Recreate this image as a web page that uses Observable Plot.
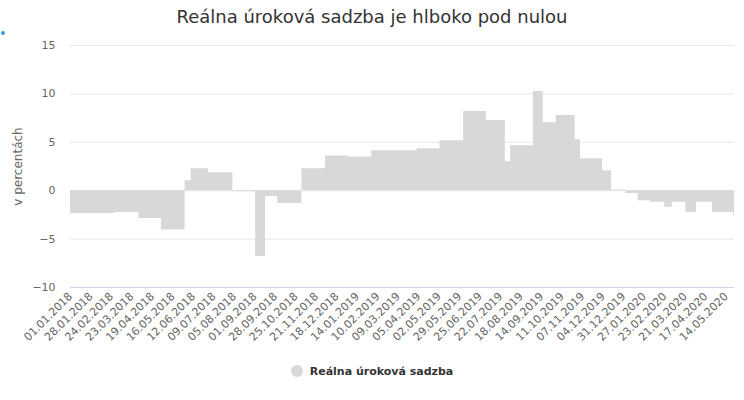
<!DOCTYPE html>
<html><head><meta charset="utf-8">
<script src="https://cdn.jsdelivr.net/npm/d3@7"></script>
<script src="https://cdn.jsdelivr.net/npm/@observablehq/plot@0.6"></script>
<style>
body{margin:0;background:#fff;font-family:"DejaVu Sans",sans-serif;width:744px;height:400px;position:relative;overflow:hidden}
#title{position:absolute;top:6px;left:0;width:744px;text-align:center;font-size:18px;color:#333}
#chart{position:absolute;top:30px;left:0}
#legend{position:absolute;top:365px;left:0;width:744px;text-align:center;font-size:11px;font-weight:bold;color:#333}
#legend .sw{display:inline-block;width:12px;height:12px;border-radius:50%;background:#d8d8d8;vertical-align:-2px;margin-right:7px}
.dot{position:absolute;left:1px;top:31px;width:4px;height:4px;border-radius:50%;background:#3a9ad9}
</style></head><body>
<div class="dot"></div>
<div id="title">Reálna úroková sadzba je hlboko pod nulou</div>
<div id="chart"></div>
<div id="legend"><span class="sw"></span>Reálna úroková sadzba</div>
<script>
const seriesName = "Reálna úroková sadzba";
const changeDates = [
  "2018-01-01","2018-03-01","2018-04-01","2018-05-01","2018-06-01","2018-06-09",
  "2018-07-02","2018-08-03","2018-09-02","2018-09-15","2018-10-01","2018-11-02",
  "2018-12-03","2019-01-02","2019-02-02","2019-04-03","2019-05-03","2019-06-03",
  "2019-07-03","2019-07-28","2019-08-04","2019-09-03","2019-09-16","2019-10-03",
  "2019-10-28","2019-11-04","2019-12-03","2019-12-15","2020-01-03","2020-01-19",
  "2020-02-04","2020-02-23","2020-03-04","2020-03-22","2020-04-05","2020-04-26",
  "2020-05-24","2020-05-25"
];
const rateValues = [
  -2.35,-2.25,-2.86,-4.07,1.03,2.27,
  1.86,-0.1,-6.8,-0.6,-1.31,2.27,
  3.59,3.48,4.14,4.34,5.17,8.17,
  7.24,3.0,4.65,10.24,7.03,7.76,
  5.27,3.31,2.07,0.07,-0.28,-1.03,
  -1.2,-1.72,-1.2,-2.24,-1.2,-2.24,
  -2.7,-2.7
];
const tickLabels = [
  "01.01.2018","28.01.2018","24.02.2018","23.03.2018","19.04.2018","16.05.2018",
  "12.06.2018","09.07.2018","05.08.2018","01.09.2018","28.09.2018","25.10.2018",
  "21.11.2018","18.12.2018","14.01.2019","10.02.2019","09.03.2019","05.04.2019",
  "02.05.2019","29.05.2019","25.06.2019","22.07.2019","18.08.2019","14.09.2019",
  "11.10.2019","07.11.2019","04.12.2019","31.12.2019","27.01.2020","23.02.2020",
  "21.03.2020","17.04.2020","14.05.2020"
];
const yTicks = [-10, -5, 0, 5, 10, 15];
const xStart = "2018-01-01", xEnd = "2020-05-25";

const parse = d3.utcParse("%Y-%m-%d");
const tickParse = d3.utcParse("%d.%m.%Y");
const fmt = d3.utcFormat("%d.%m.%Y");
const data = changeDates.map((d, i) => ({date: parse(d), value: rateValues[i]}));
const xTicks = tickLabels.map(tickParse);

const chart = Plot.plot({
  width: 744, height: 330,
  marginLeft: 70, marginRight: 10, marginTop: 15, marginBottom: 73,
  style: {fontFamily: "DejaVu Sans, sans-serif", fontSize: "11px", color: "#666", background: "transparent", overflow: "visible"},
  x: {type: "utc", domain: [parse(xStart), parse(xEnd)]},
  y: {domain: [-10, 15]},
  marks: [
    Plot.gridY(yTicks, {stroke: "#e6e6e6", strokeOpacity: 1}),
    Plot.areaY(data, {x: "date", y: "value", curve: "step-after", fill: "#d8d8d8"}),
    Plot.ruleY([-10], {stroke: "#ccd6eb"}),
    Plot.axisY(yTicks, {tickSize: 0, tickPadding: 15, label: null}),
    Plot.axisY({label: "v percentách", labelAnchor: "center", labelArrow: "none", labelOffset: 57, tickSize: 0, tickFormat: () => "", fontSize: 12}),
    Plot.axisX(xTicks, {tickSize: 0, tickPadding: 7, tickRotate: -45, tickFormat: fmt, label: null})
  ]
});
document.getElementById("chart").appendChild(chart);
</script>
</body></html>
